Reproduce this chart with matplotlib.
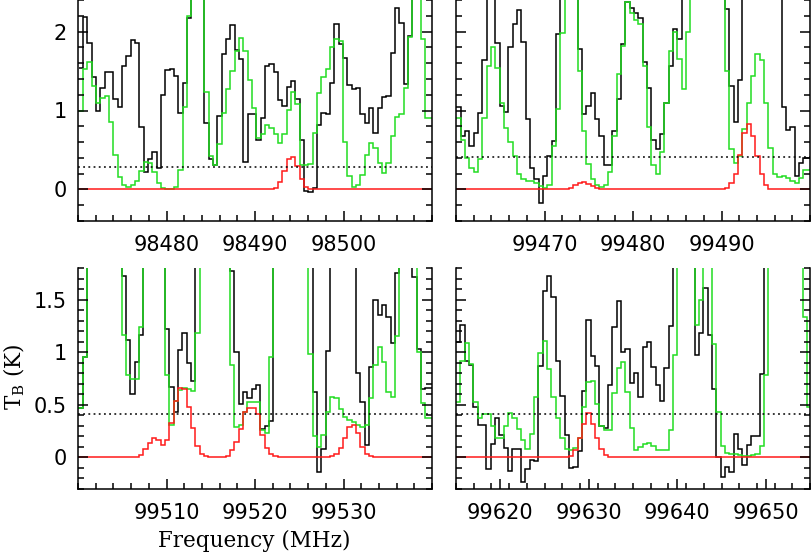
import numpy as np
import matplotlib
matplotlib.use("Agg")
import matplotlib.pyplot as plt

plt.rcParams.update({
    "font.family": "DejaVu Sans",
    "mathtext.fontset": "dejavuserif",
    "axes.linewidth": 1.1,
})

BLACK = "#000000"
GREEN = "#22dd22"
RED = "#ff1a1a"
CHAN = 0.49   # channel width (MHz)

# ---------- top left: 98470-98510 MHz ----------
tl_edge = 98470.55
tl_black = [1.54, 2.19, 1.86, 1.43, 1.00, 1.29, 1.49, 1.49, 1.15, 1.05,
            1.56, 1.69, 1.89, 1.86, 0.79, 0.22, 0.38, 0.48, 0.27, 1.20,
            1.51, 1.52, 1.44, 0.97, 1.35, 2.17, 3.0, 3.0, 3.0, 0.84,
            0.39, 0.31, 0.93, 1.71, 1.90, 2.08, 1.77, 1.65, 0.35, 0.95,
            0.95, 0.63, 0.91, 1.57, 1.59, 1.49, 1.13, 1.06, 1.30, 1.37,
            1.15, 0.63, -0.02, -0.03, 0.02, 0.82, 0.97, 0.95, 1.35, 2.09,
            1.84, 1.67, 1.32, 1.27, 1.29, 0.95, 0.84, 1.03, 0.71, 1.03,
            1.17, 1.18, 1.73, 2.30, 2.11, 1.33, 1.95, 3.0, 3.0, 3.0,
            3.0, 3.0]
tl_green = [0.99, 1.52, 1.61, 1.31, 1.10, 1.16, 1.19, 0.86, 0.43, 0.16,
            0.05, 0.03, 0.05, 0.11, 0.23, 0.35, 0.34, 0.22, 0.08, 0.02,
            0.01, 0.01, 0.03, 0.25, 1.05, 2.20, 3.0, 3.0, 3.0, 1.24,
            0.42, 0.31, 0.58, 0.97, 1.27, 1.50, 1.76, 1.92, 1.75, 1.39,
            1.03, 0.65, 0.70, 0.81, 0.78, 0.70, 0.59, 0.70, 1.01, 1.24,
            1.08, 0.31, 0.31, 0.32, 0.71, 1.22, 1.43, 1.53, 1.81, 1.91,
            1.88, 0.60, 0.17, 0.03, 0.06, 0.18, 0.44, 0.59, 0.53, 0.33,
            0.21, 0.34, 0.68, 0.92, 0.95, 1.29, 1.93, 3.0, 3.0, 1.90,
            0.90, 0.90]
tl_red = [0.0] * 44 + [0.01, 0.02, 0.09, 0.23, 0.39, 0.41, 0.30, 0.13, 0.03, 0.01] + [0.0] * 28
tl_rms = 0.29

# ---------- top right: 99460-99500 MHz ----------
tr_edge = 99460.52
tr_black = [1.04, 0.68, 0.74, 0.55, 0.72, 0.97, 1.64, 3.0, 3.0, 1.86,
            1.06, 0.98, 1.81, 2.10, 2.27, 1.87, 0.89, 0.27, 0.13, -0.17,
            0.17, 0.42, 0.61, 1.97, 3.0, 3.0, 3.0, 3.0, 1.78, 0.95,
            1.06, 1.22, 0.89, 0.68, 0.31, 0.31, 0.74, 1.15, 1.84, 2.38,
            2.30, 2.24, 2.17, 1.62, 1.29, 0.62, 0.51, 0.70, 1.10, 1.57,
            2.03, 1.90, 3.0, 3.0, 3.0, 3.0, 3.0, 3.0, 3.0, 3.0,
            3.0, 3.0, 2.28, 1.31, 0.86, 1.39, 3.0, 3.0, 3.0, 3.0,
            3.0, 3.0, 3.0, 3.0, 3.0, 1.05, 0.75, 0.79, 0.17, 0.34,
            0.40, 0.40]
tr_green = [0.91, 0.62, 0.40, 0.27, 0.22, 0.39, 0.91, 1.56, 1.81, 1.54,
            1.10, 0.78, 0.60, 0.42, 0.19, 0.13, 0.11, 0.11, 0.08, 0.04,
            0.02, 0.06, 0.55, 1.02, 1.98, 3.0, 3.0, 3.0, 1.50, 0.74,
            0.32, 0.13, 0.06, 0.03, 0.06, 0.22, 0.68, 1.46, 1.82, 2.38,
            2.24, 2.15, 2.09, 1.56, 0.79, 0.31, 0.20, 0.47, 1.09, 1.76,
            2.00, 1.65, 1.27, 2.00, 3.0, 3.0, 3.0, 3.0, 3.0, 3.0,
            3.0, 3.0, 1.50, 0.51, 0.33, 0.42, 0.76, 1.10, 1.44, 1.72,
            1.64, 1.10, 0.53, 0.20, 0.16, 0.17, 0.15, 0.11, 0.08, 0.14,
            0.25, 0.25]
tr_red = ([0.0] * 25 + [0.01, 0.02, 0.05, 0.08, 0.09, 0.07, 0.04, 0.02, 0.01]
          + [0.0] * 28 + [0.02, 0.08, 0.20, 0.43, 0.71, 0.83, 0.68, 0.42, 0.19,
                          0.05, 0.01] + [0.0] * 9)
tr_rms = 0.41

# ---------- bottom left: 99500-99540 MHz ----------
bl_edge = 99500.53
bl_black = [0.47, 0.95, 2.0, 2.0, 2.0, 2.0, 2.0, 2.0, 2.0, 2.0,
            1.72, 1.12, 0.60, 0.91, 1.16, 2.0, 2.0, 2.0, 2.0, 2.0,
            1.22, 0.67, 0.43, 1.02, 1.18, 0.90, 0.73, 2.0, 2.0, 2.0,
            2.0, 2.0, 2.0, 2.0, 2.0, 1.77, 1.00, 0.51, 0.62, 0.56,
            0.65, 0.69, 0.27, 0.30, 0.35, 2.0, 2.0, 2.0, 2.0, 2.0,
            2.0, 2.0, 2.0, 2.0, 0.62, -0.14, 0.08, 1.01, 2.0, 2.0,
            2.0, 2.0, 2.0, 2.0, 0.80, 0.53, 0.12, 0.86, 1.50, 1.35,
            1.45, 1.33, 1.09, 1.75, 2.0, 2.0, 2.0, 1.71, 1.03, 0.65,
            0.66, 0.66]
bl_green = [0.47, 0.95, 2.0, 2.0, 2.0, 2.0, 2.0, 2.0, 2.0, 2.0,
            1.16, 0.78, 0.75, 0.75, 1.24, 2.0, 2.0, 2.0, 2.0, 2.0,
            0.78, 0.31, 0.54, 0.64, 0.66, 0.65, 0.63, 1.18, 2.0, 2.0,
            2.0, 2.0, 2.0, 2.0, 2.0, 0.88, 0.29, 0.31, 0.43, 0.53,
            0.53, 0.53, 0.26, 0.23, 0.95, 2.0, 2.0, 2.0, 2.0, 2.0,
            2.0, 2.0, 2.0, 0.98, 0.20, 0.10, 0.21, 0.43, 0.57, 0.56,
            0.46, 0.38, 0.36, 0.34, 0.31, 0.29, 0.31, 0.56, 0.88, 1.05,
            0.91, 0.62, 0.57, 1.15, 2.0, 2.0, 2.0, 2.0, 1.00, 0.52,
            0.37, 0.37]
bl_red = ([0.0] * 14 + [0.02, 0.08, 0.14, 0.18, 0.17, 0.12, 0.17, 0.33, 0.54,
                         0.66, 0.65, 0.48, 0.28, 0.11, 0.03, 0.01]
          + [0.0] * 4 + [0.01, 0.07, 0.15, 0.27, 0.43, 0.47, 0.47, 0.41, 0.21,
                         0.09, 0.03, 0.01]
          + [0.0] * 12 + [0.01, 0.03, 0.09, 0.18, 0.29, 0.31, 0.23, 0.10, 0.03,
                          0.01] + [0.0] * 14)
bl_rms = 0.41

# ---------- bottom right: 99615-99655 MHz ----------
br_edge = 99615.50
br_black = [1.10, 1.26, 0.92, 0.88, 0.48, 0.31, 0.31, -0.11, 0.13, 0.37,
            0.21, 0.09, -0.13, 0.08, 0.08, -0.23, -0.11, -0.02, -0.03, 0.87,
            1.58, 1.72, 1.52, 0.92, 0.58, 0.21, -0.10, -0.09, 0.06, 0.63,
            1.31, 0.96, 0.87, 0.30, 0.28, 0.69, 1.24, 1.49, 1.00, 1.03,
            0.71, 0.80, 0.57, 1.05, 1.10, 0.86, 0.69, 0.54, 0.85, 1.25,
            2.0, 2.0, 2.0, 2.0, 2.0, 0.97, 1.18, 1.61, 1.16, 0.65,
            0.00, -0.19, -0.09, -0.14, 0.22, 0.08, -0.07, 0.12, 0.20, 0.20,
            0.79, 2.0, 2.0, 2.0, 2.0, 2.0, 2.0, 2.0, 2.0, 2.0,
            2.0, 2.0]
br_green = [0.53, 0.92, 1.09, 0.89, 0.53, 0.37, 0.41, 0.41, 0.30, 0.18,
            0.18, 0.30, 0.42, 0.37, 0.27, 0.17, 0.08, 0.22, 0.57, 0.99,
            1.11, 0.84, 0.57, 0.37, 0.18, 0.08, 0.07, 0.09, 0.18, 0.48,
            0.72, 0.73, 0.51, 0.30, 0.26, 0.26, 0.61, 0.85, 0.91, 0.62,
            0.28, 0.07, 0.10, 0.13, 0.14, 0.11, 0.07, 0.07, 0.07, 0.26,
            0.97, 2.0, 2.0, 2.0, 2.0, 1.26, 1.50, 2.0, 2.0, 1.08,
            0.43, 0.11, 0.04, 0.03, 0.03, 0.02, 0.01, 0.01, 0.02, 0.03,
            0.11, 0.78, 2.0, 2.0, 2.0, 2.0, 2.0, 2.0, 2.0, 2.0,
            1.33, 0.48]
br_red = ([0.0] * 26 + [0.01, 0.07, 0.18, 0.32, 0.42, 0.32, 0.18, 0.08, 0.02, 0.005]
          + [0.0] * 46)
br_rms = 0.41

panels = [
    # (edge, black, green, red, rms, xlim, xticks, ylim, ymajor, yminor, yticklabels)
    (tl_edge, tl_black, tl_green, tl_red, tl_rms, (98470, 98510), [98480, 98490, 98500],
     (-0.4, 2.4), [0, 1, 2], 0.2, True),
    (tr_edge, tr_black, tr_green, tr_red, tr_rms, (99460, 99500), [99470, 99480, 99490],
     (-0.4, 2.4), [0, 1, 2], 0.2, False),
    (bl_edge, bl_black, bl_green, bl_red, bl_rms, (99500, 99540), [99510, 99520, 99530],
     (-0.3, 1.8), [0, 0.5, 1, 1.5], 0.1, True),
    (br_edge, br_black, br_green, br_red, br_rms, (99615, 99655), [99620, 99630, 99640, 99650],
     (-0.3, 1.8), [0, 0.5, 1, 1.5], 0.1, False),
]

W, H = 811, 556
boxes = [(78, 0), (456, 0), (78, 268), (456, 268)]
bw, bh = 354, 221

fig = plt.figure(figsize=(W / 100, H / 100), dpi=100)

for (px, py), (edge, blk, grn, red, rms, xlim, xt, ylim, ymaj, ymin, ylab) in zip(boxes, panels):
    ax = fig.add_axes([px / W, 1 - (py + bh) / H, bw / W, bh / H])
    n = len(blk)
    edges = edge + CHAN * (np.arange(n + 1) - 1)
    ax.stairs(blk, edges, color=BLACK, lw=1.1, baseline=None)
    ax.stairs(grn, edges, color=GREEN, lw=1.1, baseline=None)
    ax.stairs(red, edges, color=RED, lw=1.1, baseline=None)
    ax.axhline(rms, color=BLACK, lw=1.1, ls=(0, (1.2, 2.2)))
    ax.set_xlim(*xlim)
    ax.set_ylim(*ylim)
    ax.set_xticks(xt)
    ax.set_xticks(np.arange(xlim[0], xlim[1] + 0.01, 2), minor=True)
    ax.set_yticks(ymaj)
    ax.set_yticks(np.arange(ylim[0], ylim[1] + 0.001, ymin), minor=True)
    ax.set_xticklabels([str(v) for v in xt], fontsize=15)
    if ylab:
        ax.set_yticklabels([f"{v:g}" for v in ymaj], fontsize=15)
    else:
        ax.set_yticklabels([])
    ax.spines["top"].set_visible(False)
    ax.tick_params(which="both", direction="in", right=True, top=False, width=1.1)
    ax.tick_params(which="major", length=7, pad=10)
    ax.tick_params(which="minor", length=4)
    ax.tick_params(axis="y", which="major", pad=8)

fig.text(254 / W, 1 - 541 / H, "Frequency (MHz)", ha="center", va="center",
         fontsize=15.5, family="DejaVu Serif")
fig.text(14 / W, 1 - 377 / H, r"T$_\mathregular{B}$ (K)", ha="center", va="center",
         rotation=90, fontsize=15.5, family="DejaVu Serif")

fig.savefig("out.png", dpi=100)
